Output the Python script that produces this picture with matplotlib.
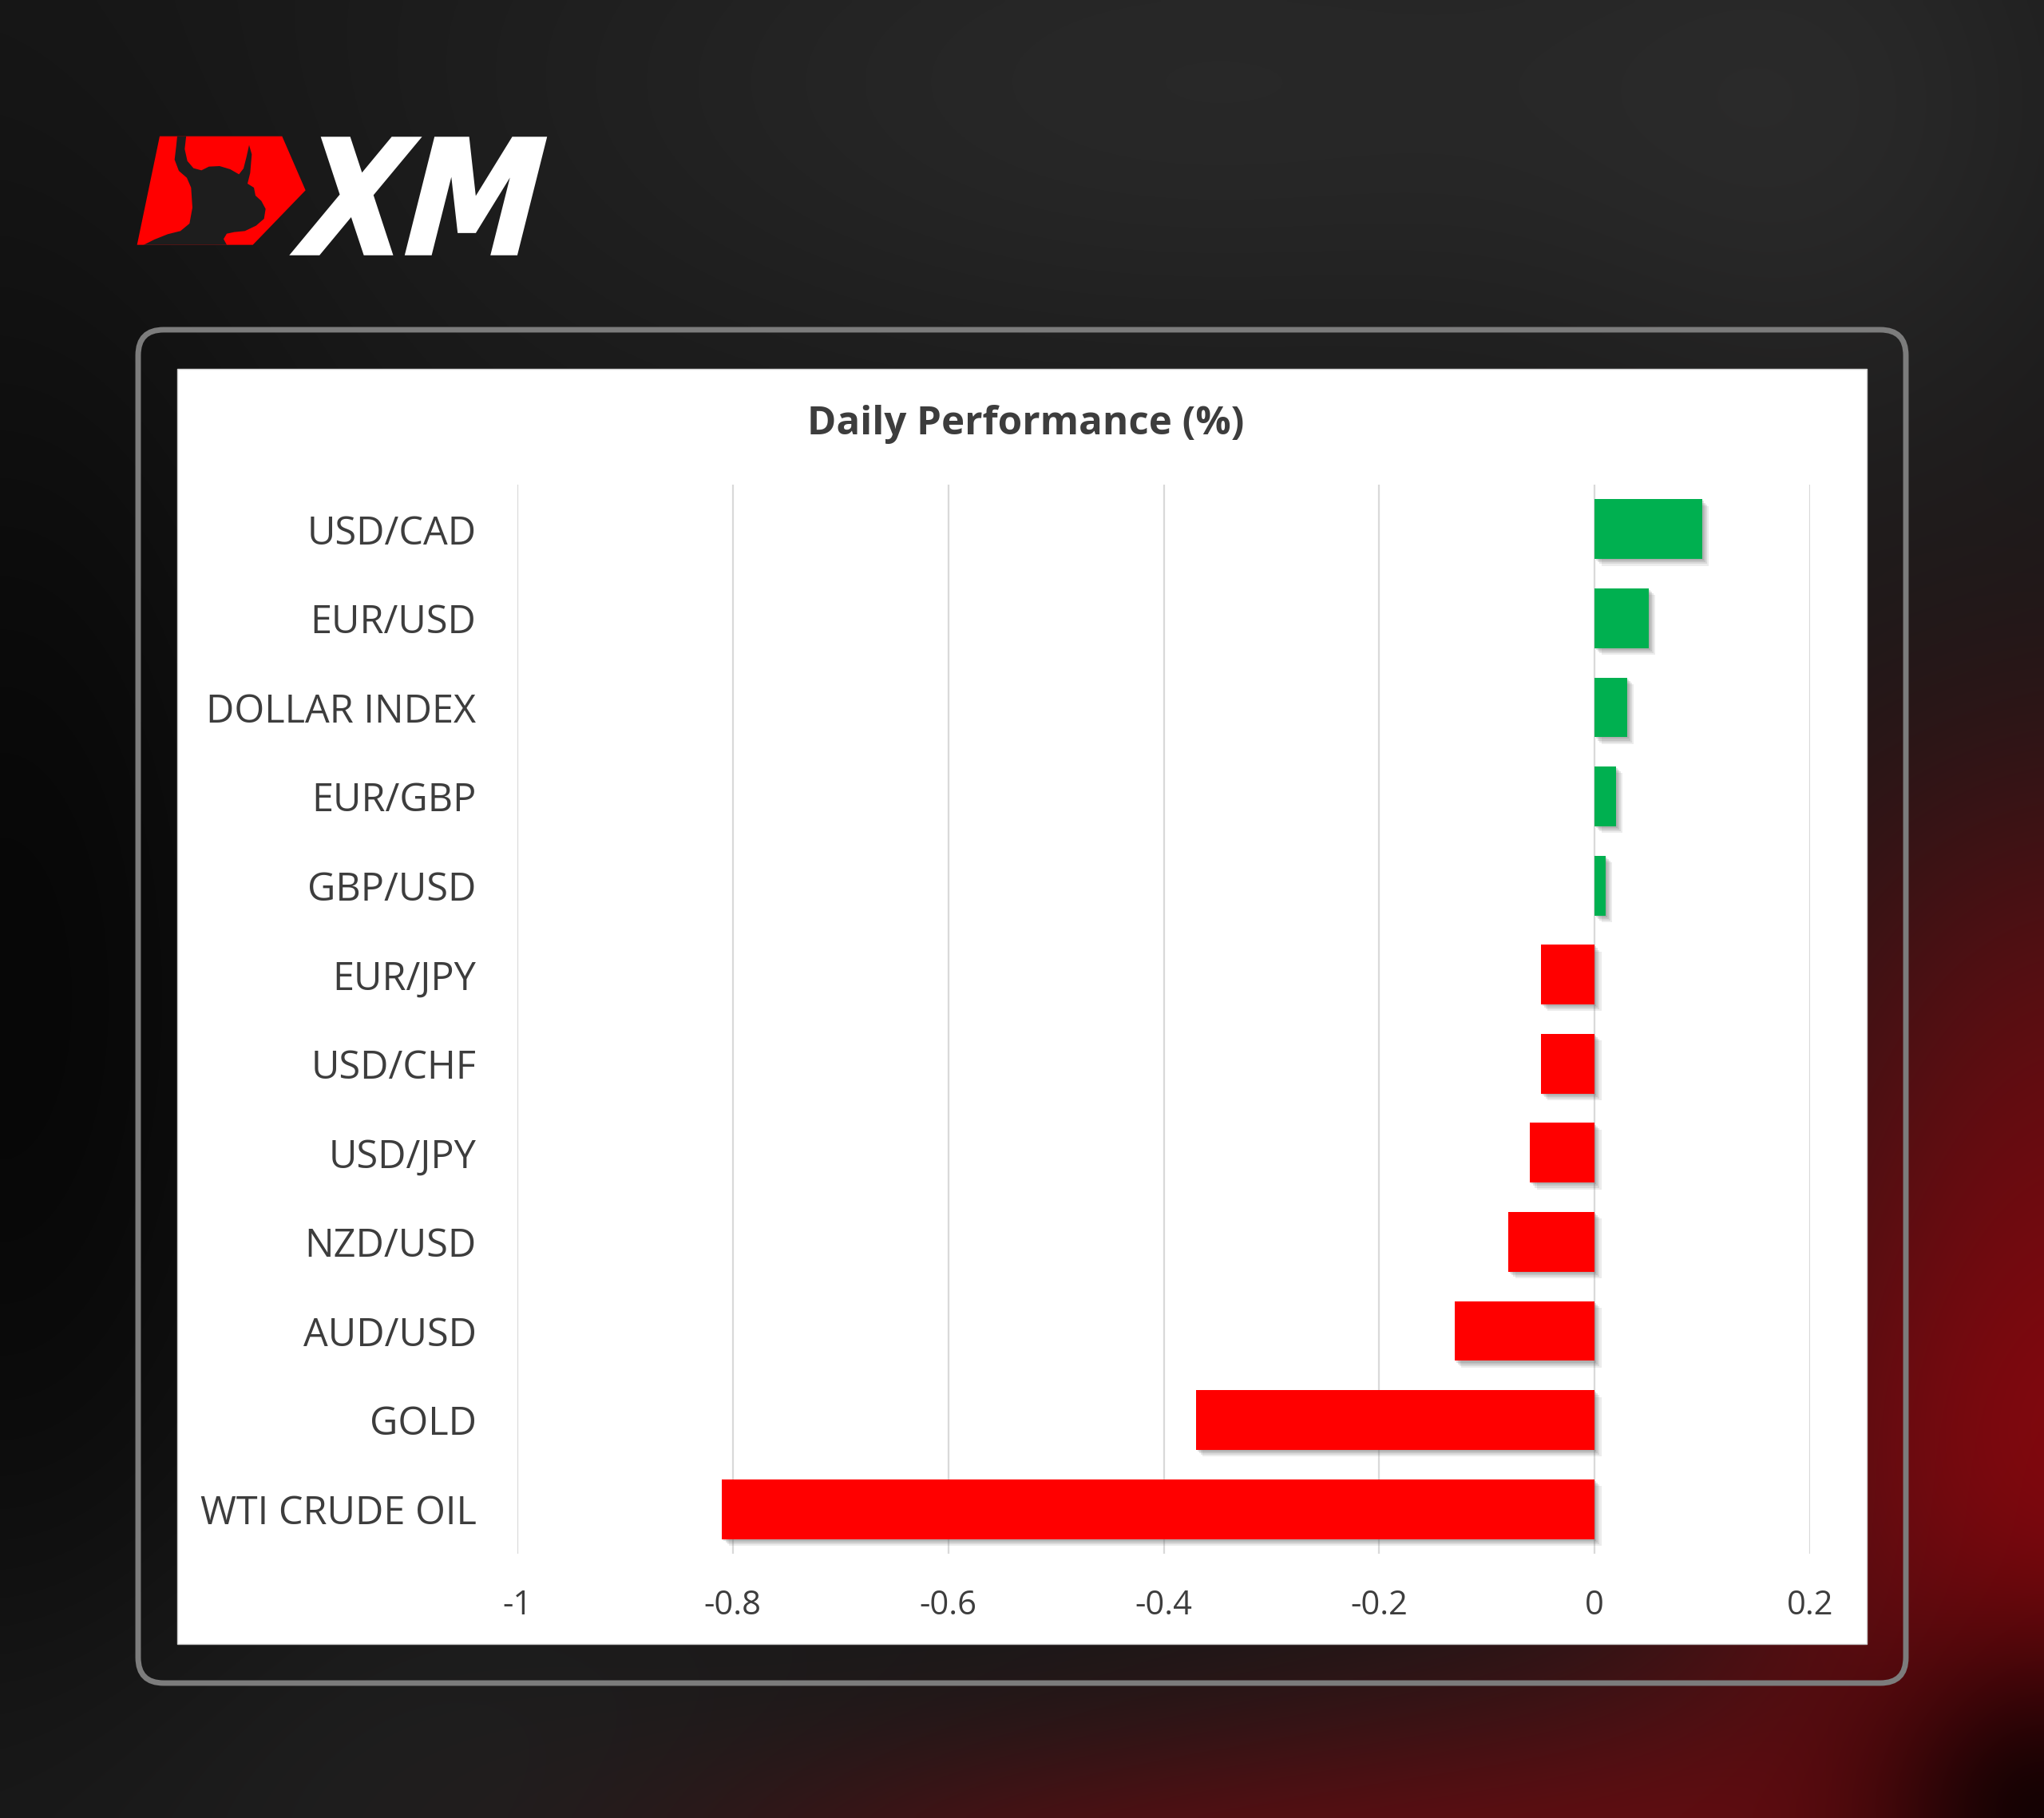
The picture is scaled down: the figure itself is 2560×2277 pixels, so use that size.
import numpy as np
import matplotlib
matplotlib.use("Agg")
import matplotlib.pyplot as plt
from matplotlib.patches import Polygon, FancyBboxPatch, Rectangle, PathPatch
from matplotlib.textpath import TextPath
from matplotlib.font_manager import FontProperties
from matplotlib.transforms import Affine2D
import matplotlib.patheffects as pe

# ---------------- data ----------------
categories = ["USD/CAD", "EUR/USD", "DOLLAR INDEX", "EUR/GBP", "GBP/USD", "EUR/JPY",
              "USD/CHF", "USD/JPY", "NZD/USD", "AUD/USD", "GOLD", "WTI CRUDE OIL"]
values = [0.10, 0.05, 0.03, 0.02, 0.01, -0.05, -0.05, -0.06, -0.08, -0.13, -0.37, -0.81]
x_ticks = [-1, -0.8, -0.6, -0.4, -0.2, 0, 0.2]
x_tick_labels = ["-1", "-0.8", "-0.6", "-0.4", "-0.2", "0", "0.2"]
title = "Daily Performance (%)"

FONT = "Open Sans"
TXT = "#3d3d3d"
W, H = 2560, 2277

fig = plt.figure(figsize=(W / 100, H / 100), dpi=100)
bg = fig.add_axes([0, 0, 1, 1])
bg.set_xlim(0, W)
bg.set_ylim(H, 0)
bg.axis("off")

# ---------------- decorative background ----------------
ys, xs = np.mgrid[0:H:6, 0:W:6].astype(float)
def g(cx, cy, sx, sy):
    return np.exp(-((xs - cx) ** 2 / (2 * sx ** 2) + (ys - cy) ** 2 / (2 * sy ** 2)))

base = 24 + 16 * g(1500, 100, 650, 280) + 10 * g(2300, 150, 250, 350) + 8 * g(300, 2250, 500, 250)
base = base * (1 - 0.7 * g(0, 1250, 280, 650))
a = (1.0 * g(2600, 1850, 320, 430) + 0.55 * g(1950, 2330, 380, 160)
     + 0.35 * g(1300, 2330, 330, 110) + 0.25 * g(2600, 1200, 250, 250))
a = np.clip(a, 0, 1)
redc = np.array([128, 8, 14], dtype=float)
R = base * (1 - a) + redc[0] * a
G = base * (1 - a) + redc[1] * a
B = base * (1 - a) + redc[2] * a
corner = 1 - 0.8 * g(2560, 2277, 160, 160)
R *= corner; G *= corner; B *= corner
img = np.clip(np.dstack([R, G, B]) / 255.0, 0, 1)
bg.imshow(img, extent=(0, W, H, 0), interpolation="bilinear", aspect="auto", zorder=0)

# ---------------- logo ----------------
def zc(pts):
    return [(160 + x / 3.0, 150 + y / 3.0) for x, y in pts]

red_poly = Polygon(zc([(120, 62), (580, 62), (668, 265), (470, 470), (35, 470)]),
                   closed=True, fc="#ff0000", ec="none", zorder=2)
bg.add_patch(red_poly)
bull = Polygon(zc([(188, 40), (222, 40), (214, 110), (224, 155), (247, 182), (277, 190),
                   (305, 176), (345, 174), (385, 186), (418, 205), (435, 183), (446, 140),
                   (456, 95), (466, 130), (460, 200), (450, 240), (474, 255), (480, 285),
                   (502, 305), (518, 335), (512, 372), (482, 398), (440, 418), (400, 422),
                   (372, 428), (360, 448), (372, 470), (372, 500), (20, 500), (60, 470),
                   (100, 450), (150, 430), (198, 418), (232, 390), (243, 330), (238, 255),
                   (222, 218), (192, 192), (176, 150), (182, 100)]),
               closed=True, fc="#1d1d1d", ec="none", zorder=3)
bg.add_patch(bull)
bull.set_clip_path(red_poly)

tp = TextPath((0, 0), "XM", prop=FontProperties(family="DejaVu Sans", weight="bold"), size=100)
ext = tp.get_extents()
k = np.tan(np.radians(16))
w0 = ext.width + k * ext.height
tx0, tx1, ty0, ty1 = 366, 682, 173, 318
tr = (Affine2D().translate(-ext.x0, -ext.y0).skew(k, 0)
      .scale((tx1 - tx0) / w0, -(ty1 - ty0) / ext.height).translate(tx0, ty1))
bg.add_patch(PathPatch(tr.transform_path(tp), fc="white", ec="white", lw=2.5, zorder=3))

# ---------------- frame and panel ----------------
frame = FancyBboxPatch((173, 413), 2387 - 173, 2108 - 413,
                       boxstyle="round,pad=0,rounding_size=32",
                       fc="none", ec="#7c7c7c", lw=5, zorder=2)
bg.add_patch(frame)
bg.add_patch(Rectangle((222, 462), 2338 - 222, 2059 - 462, fc="white", ec="#d0d0d0",
                       lw=1, zorder=2))
bg.text(1285, 544, title, ha="center", va="baseline", fontsize=35.5, fontweight="bold",
        color=TXT, family=FONT, zorder=4)

# ---------------- chart ----------------
left, right, top, bottom = 648, 2267, 607, 1946
ax = fig.add_axes([left / W, 1 - bottom / H, (right - left) / W, (bottom - top) / H])
ax.set_facecolor("none")
n = len(categories)
ypos = np.arange(n)
colors = ["#00b050" if v >= 0 else "#ff0000" for v in values]
bars = ax.barh(ypos, values, height=0.67, color=colors, zorder=3)
shadow = [pe.SimplePatchShadow(offset=(o, -o), shadow_rgbFace=(0.4, 0.4, 0.4), alpha=al)
          for o, al in [(6, 0.12), (4.5, 0.15), (3, 0.18), (1.5, 0.2)]]
for b in bars:
    b.set_path_effects(shadow + [pe.Normal()])
ax.set_xlim(-1, 0.2)
ax.set_ylim(n - 0.5, -0.5)
ax.set_xticks(x_ticks)
ax.set_xticklabels(x_tick_labels, fontsize=30, color=TXT, family=FONT)
ax.set_yticks(ypos)
ax.set_yticklabels(categories, fontsize=35, color=TXT, family=FONT)
ax.xaxis.grid(True, color="#d9d9d9", lw=1.6)
ax.set_axisbelow(True)
ax.tick_params(axis="both", length=0)
ax.tick_params(axis="y", pad=37)
ax.tick_params(axis="x", pad=32)
for s in ax.spines.values():
    s.set_visible(False)

fig.savefig("out.png", dpi=100)
